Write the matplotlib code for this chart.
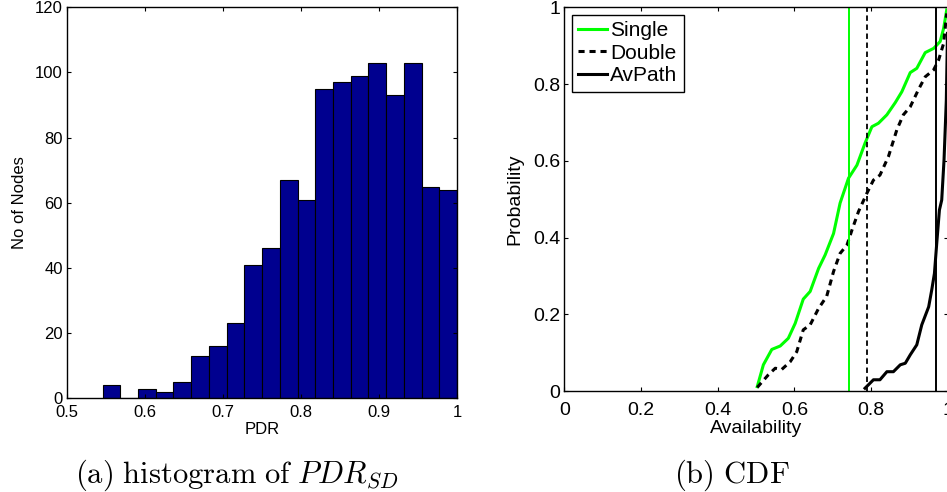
import numpy as np
import matplotlib
matplotlib.use('Agg')
import matplotlib.pyplot as plt

plt.rcParams['font.family'] = ['Liberation Sans', 'DejaVu Sans']
plt.rcParams['mathtext.fontset'] = 'cm'

# histogram of PDR (20 bins between min and max)
pdr_lo = 0.5455
pdr_hi = 1.0
pdr_counts = [4, 0, 3, 2, 5, 13, 16, 23, 41, 46, 67, 61, 95, 97, 99, 103, 93, 103, 65, 64]

# CDF curves
single_x = [0.503, 0.519, 0.541, 0.563, 0.584, 0.602, 0.623, 0.641, 0.663, 0.680, 0.702, 0.719,
            0.741, 0.763, 0.784, 0.802, 0.819, 0.841, 0.863, 0.880, 0.902, 0.919, 0.941, 0.963,
            0.980, 0.989, 0.997]
single_y = [0.012, 0.069, 0.109, 0.118, 0.138, 0.177, 0.240, 0.260, 0.320, 0.355, 0.411, 0.490,
            0.555, 0.589, 0.646, 0.689, 0.698, 0.720, 0.752, 0.780, 0.830, 0.841, 0.882, 0.893,
            0.911, 0.945, 0.993]
double_x = [0.503, 0.532, 0.550, 0.567, 0.589, 0.606, 0.623, 0.641, 0.663, 0.684, 0.702, 0.719,
            0.737, 0.750, 0.767, 0.789, 0.806, 0.823, 0.845, 0.867, 0.884, 0.902, 0.923, 0.941,
            0.963, 0.976, 0.989, 0.997]
double_y = [0.010, 0.043, 0.060, 0.057, 0.077, 0.103, 0.160, 0.173, 0.216, 0.247, 0.312, 0.359,
            0.381, 0.420, 0.468, 0.516, 0.550, 0.563, 0.611, 0.681, 0.720, 0.741, 0.785, 0.819,
            0.837, 0.863, 0.906, 0.984]
avpath_x = [0.784, 0.806, 0.823, 0.841, 0.858, 0.876, 0.889, 0.902, 0.919, 0.932, 0.950, 0.958,
            0.965, 0.971, 0.978, 0.984, 0.990, 0.996, 0.999]
avpath_y = [0.008, 0.030, 0.030, 0.051, 0.051, 0.069, 0.073, 0.095, 0.121, 0.173, 0.220, 0.264,
            0.307, 0.385, 0.472, 0.498, 0.602, 0.758, 0.932]
# mean availability markers
single_mean = 0.743
double_mean = 0.790
avpath_mean = 0.969

green = '#00ff00'

fig = plt.figure(figsize=(9.47, 4.92), dpi=100)

# (a) histogram
ax1 = fig.add_axes([0.0708, 0.1904, 0.4118, 0.7948])
edges = np.linspace(pdr_lo, pdr_hi, len(pdr_counts) + 1)
ax1.bar(edges[:-1], pdr_counts, width=np.diff(edges), align='edge',
        color='#00008f', edgecolor='black', linewidth=0.8)
ax1.set_xlim(0.5, 1.0)
ax1.set_ylim(0, 120)
ax1.set_xticks([0.5, 0.6, 0.7, 0.8, 0.9, 1.0])
ax1.set_xticklabels(['0.5', '0.6', '0.7', '0.8', '0.9', '1'])
ax1.set_yticks(range(0, 121, 20))
ax1.tick_params(direction='in', length=3, width=0.8, labelsize=12, top=True, right=True)
ax1.tick_params(axis='x', pad=5)
ax1.tick_params(axis='y', pad=3)
ax1.set_xlabel('PDR', fontsize=12, va='center')
ax1.xaxis.set_label_coords(0.5, -0.0785)
ax1.set_ylabel('No of Nodes', fontsize=12, va='center')
ax1.yaxis.set_label_coords(-0.123, 0.5)

# (b) CDF
ax2 = fig.add_axes([0.5959, 0.2047, 0.405, 0.7805])
ax2.plot(single_x, single_y, color=green, lw=2.2, label='Single')
ax2.plot(double_x, double_y, color='black', lw=2.2, dashes=(2, 1.6), label='Double')
ax2.plot(avpath_x, avpath_y, color='black', lw=2.2, label='AvPath')
ax2.axvline(single_mean, color=green, lw=1.4)
ax2.axvline(double_mean, color='black', lw=1.3, dashes=(3, 2))
ax2.axvline(avpath_mean, color='black', lw=1.4)
ax2.set_xlim(0, 1)
ax2.set_ylim(0, 1)
ax2.set_xticks([0, 0.2, 0.4, 0.6, 0.8, 1.0])
ax2.set_xticklabels(['0', '0.2', '0.4', '0.6', '0.8', '1'])
ax2.set_yticks([0, 0.2, 0.4, 0.6, 0.8, 1.0])
ax2.set_yticklabels(['0', '0.2', '0.4', '0.6', '0.8', '1'])
ax2.tick_params(direction='in', length=3, width=0.8, labelsize=14, top=True, right=True)
ax2.tick_params(axis='x', pad=8)
ax2.tick_params(axis='y', pad=3)
ax2.set_xlabel('Availability', fontsize=14, va='center')
ax2.xaxis.set_label_coords(0.5, -0.098)
ax2.set_ylabel('Probability', fontsize=14, va='center')
ax2.yaxis.set_label_coords(-0.13, 0.5)
leg = ax2.legend(loc='upper left', fontsize=15, handlelength=1.4, handletextpad=0.15,
                 borderpad=0.3, labelspacing=0.18, borderaxespad=0.35, fancybox=False,
                 framealpha=1, edgecolor='black')
leg.get_frame().set_linewidth(1.0)

for ax in (ax1, ax2):
    for s in ax.spines.values():
        s.set_linewidth(1.0)

fig.text(0.250, 0.0346, r'$\mathrm{(a)\ histogram\ of\ }PDR_{SD}$', fontsize=22,
         ha='center', va='center')
fig.text(0.773, 0.0346, r'$\mathrm{(b)\ CDF}$', fontsize=22, ha='center', va='center')

fig.savefig('out.png', dpi=100)
